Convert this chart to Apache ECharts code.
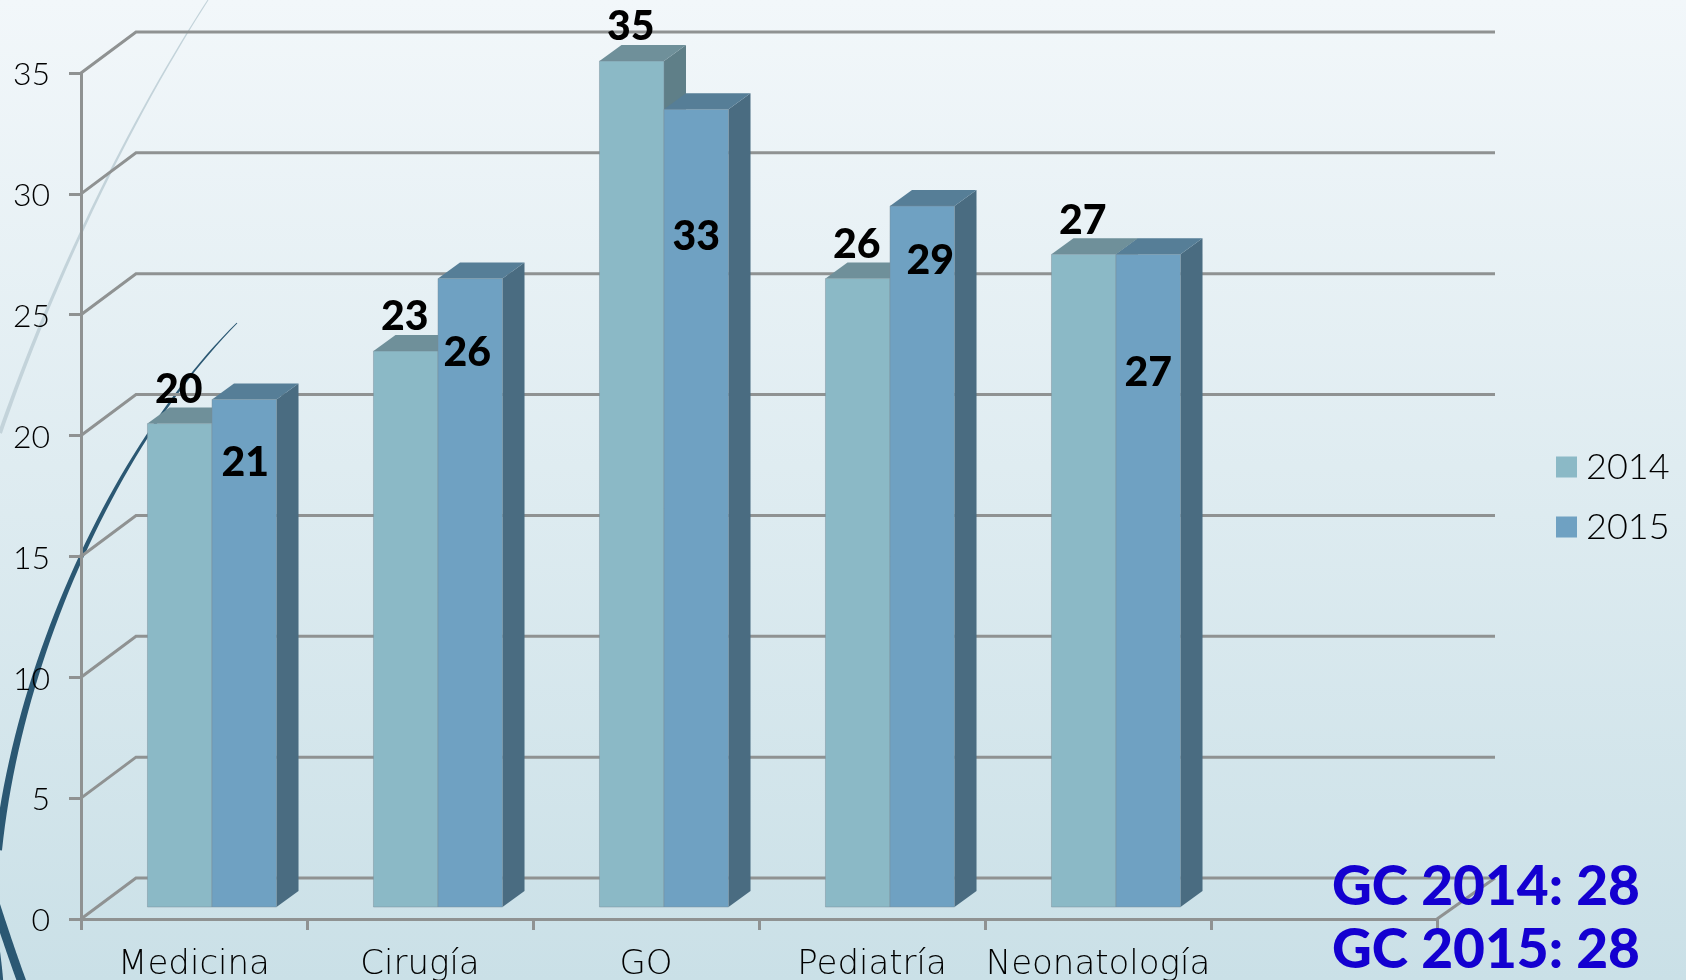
<!DOCTYPE html>
<html>
<head>
<meta charset="utf-8">
<style>html,body{margin:0;padding:0;background:#dfecf1}#c{width:1686px;height:980px}</style>
<script src="https://cdn.jsdelivr.net/npm/echarts@6/dist/echarts.min.js"></script>
</head>
<body>
<div id="c"></div>
<script>
const categories = ['Medicina', 'Cirugía', 'GO', 'Pediatría', 'Neonatología', ''];
const seriesNames = ['2014', '2015'];
const values2014 = [20, 23, 35, 26, 27];
const values2015 = [21, 26, 33, 29, 27];
const yTicks = [0, 5, 10, 15, 20, 25, 30, 35];
const gcNotes = ['GC 2014: 28', 'GC 2015: 28'];

// Hand-placed 2015 labels of the source slide: drop below the bar top, and sideways nudge.
const drop2015 = [63, 74, 127, 55, 118];
const nudge2015 = [2, -2, 1, 9, 1];

const FONT = 'Lato, "Noto Sans", sans-serif';
const WIDE_FONT = '"DejaVu Sans", Lato, sans-serif';
const WALL_DX = 55, WALL_DY = 41;          // oblique projection of the wall
const WALL_EXTRA = 3;                      // back lines run slightly past the floor corner
const BAR_SHIFT_X = 18, BAR_SHIFT_Y = 12;  // bars stand forward of the wall
const BAR_DX = 22, BAR_DY = 16;            // bar depth
const BAR_BAND = 0.2855;                   // bar width as part of a category band

const faces = {
  '2014': {front: '#8bb9c6', top: '#6f909a', side: '#5f7f88'},
  '2015': {front: '#6fa1c2', top: '#567e97', side: '#4a6c81'}
};

function barRenderer(name) {
  return function (params, api) {
    const i = api.value(0), v = api.value(1);
    const topPt = api.coord([i, v]);
    const basePt = api.coord([i, 0]);
    const w = api.size([1, 0])[0] * BAR_BAND;
    const cx = topPt[0] + BAR_SHIFT_X;
    const x0 = name === '2014' ? cx - w : cx;
    const x1 = x0 + w;
    const yt = topPt[1] - BAR_SHIFT_Y;
    const yb = basePt[1] - BAR_SHIFT_Y;
    const c = faces[name];
    const line = {stroke: 'rgba(120,140,150,0.45)', lineWidth: 1};
    const labelY = name === '2014' ? yt - 34 : yt + drop2015[i];
    const labelX = (x0 + x1) / 2 + (name === '2014' ? -1 : nudge2015[i] - 1);
    return {
      type: 'group',
      children: [
        {type: 'polygon', shape: {points: [[x1, yb], [x1 + BAR_DX, yb - BAR_DY], [x1 + BAR_DX, yt - BAR_DY], [x1, yt]]}, style: {fill: c.side}},
        {type: 'polygon', shape: {points: [[x0, yt], [x0 + BAR_DX, yt - BAR_DY], [x1 + BAR_DX, yt - BAR_DY], [x1, yt]]}, style: {fill: c.top}},
        {type: 'rect', shape: {x: x0, y: yt, width: w, height: yb - yt}, style: Object.assign({fill: c.front}, line)},
        {type: 'text', z2: 50, style: {
          text: String(v), x: labelX, y: labelY, align: 'center', verticalAlign: 'middle',
          fill: '#000', font: '900 41px ' + FONT
        }}
      ]
    };
  };
}

function wallRenderer(params, api) {
  const cs = params.coordSys;
  const y = api.coord([0, api.value(1)])[1];
  const l = cs.x, r = cs.x + cs.width;
  const kids = [{
    type: 'polyline',
    shape: {points: [[l, y], [l + WALL_DX, y - WALL_DY], [r + WALL_DX + WALL_EXTRA, y - WALL_DY]]},
    style: {fill: 'none', stroke: '#8f9292', lineWidth: 3}
  }];
  if (api.value(1) === 0) {
    kids.push({
      type: 'line',
      shape: {x1: r, y1: y, x2: r + WALL_DX + WALL_EXTRA, y2: y - WALL_DY},
      style: {stroke: '#8f9292', lineWidth: 3}
    });
  }
  return {type: 'group', children: kids};
}

// Decorative swooshes of the slide template
function crescent(p0, c1, c2, p3, w0, w1, fill) {
  const a = [], b = [], n = 48;
  for (let k = 0; k <= n; k++) {
    const t = k / n, u = 1 - t;
    const x = u*u*u*p0[0] + 3*u*u*t*c1[0] + 3*u*t*t*c2[0] + t*t*t*p3[0];
    const y = u*u*u*p0[1] + 3*u*u*t*c1[1] + 3*u*t*t*c2[1] + t*t*t*p3[1];
    const dx = 3*u*u*(c1[0]-p0[0]) + 6*u*t*(c2[0]-c1[0]) + 3*t*t*(p3[0]-c2[0]);
    const dy = 3*u*u*(c1[1]-p0[1]) + 6*u*t*(c2[1]-c1[1]) + 3*t*t*(p3[1]-c2[1]);
    const len = Math.hypot(dx, dy) || 1;
    const hw = (w0 + (w1 - w0) * t) / 2;
    a.push([x - dy / len * hw, y + dx / len * hw]);
    b.unshift([x + dy / len * hw, y - dx / len * hw]);
  }
  return {type: 'polygon', silent: true, z: 0, shape: {points: a.concat(b)}, style: {fill}};
}

const chart = echarts.init(document.getElementById('c'), null, {renderer: 'canvas'});
chart.setOption({
  animation: false,
  backgroundColor: {
    type: 'linear', x: 0, y: 0, x2: 0, y2: 1,
    colorStops: [{offset: 0, color: '#f2f7fa'}, {offset: 1, color: '#cae0e7'}]
  },
  textStyle: {fontFamily: FONT},
  grid: {left: 81, right: 249, top: 73, bottom: 61, containLabel: false, outerBoundsMode: 'none'},
  legend: {
    data: seriesNames,
    orient: 'vertical',
    left: 1551,
    top: 444,
    itemWidth: 21,
    itemHeight: 21,
    itemGap: 24,
    icon: 'rect',
    selectedMode: false,
    textStyle: {fontFamily: FONT, fontSize: 36, fontWeight: 300, color: '#000', padding: [0, 0, 0, 4]}
  },
  xAxis: {
    type: 'category',
    data: categories,
    axisLine: {show: true, lineStyle: {color: '#8f9292', width: 3}},
    axisTick: {show: true, length: 11, interval: 0, lineStyle: {color: '#8f9292', width: 3}},
    axisLabel: {interval: 0, margin: 29, fontSize: 34, fontWeight: 200, color: '#000', fontFamily: WIDE_FONT}
  },
  yAxis: {
    type: 'value',
    min: 0, max: 35, interval: 5,
    splitLine: {show: false},
    axisLine: {show: true, lineStyle: {color: '#8f9292', width: 3}},
    axisTick: {show: true, length: 12, lineStyle: {color: '#8f9292', width: 3}},
    axisLabel: {margin: 31, fontSize: 32, fontWeight: 300, color: '#000', fontFamily: FONT, verticalAlign: 'top', lineHeight: 4}
  },
  graphic: {elements: [
    crescent([208, 0], [140, 105], [60, 260], [0, 433], 1, 4, '#c3d3da'),
    crescent([237, 323], [120, 440], [20, 650], [-2, 850], 1, 8, '#2b5873'),
    crescent([-6, 900], [2, 925], [12, 955], [23, 985], 9, 9, '#2b5873'),
    crescent([-3, 940], [-1, 955], [1, 970], [2, 985], 3, 3, '#2b5873'),
    {type: 'text', z: 100, x: 1332, y: 887, style: {text: gcNotes[0], fill: '#1400d0', font: '900 55px ' + FONT, verticalAlign: 'middle'}},
    {type: 'text', z: 100, x: 1332, y: 950, style: {text: gcNotes[1], fill: '#1400d0', font: '900 55px ' + FONT, verticalAlign: 'middle'}}
  ]},
  series: [
    {
      name: 'wall', type: 'custom', silent: true, z: 1, clip: false,
      renderItem: wallRenderer,
      encode: {x: 0, y: 1},
      data: yTicks.map(t => [0, t])
    },
    {
      name: seriesNames[0], type: 'custom', z: 3, clip: false,
      itemStyle: {color: faces['2014'].front},
      renderItem: barRenderer('2014'),
      encode: {x: 0, y: 1},
      data: values2014.map((v, i) => [i, v])
    },
    {
      name: seriesNames[1], type: 'custom', z: 4, clip: false,
      itemStyle: {color: faces['2015'].front},
      renderItem: barRenderer('2015'),
      encode: {x: 0, y: 1},
      data: values2015.map((v, i) => [i, v])
    }
  ]
});
</script>
</body>
</html>
